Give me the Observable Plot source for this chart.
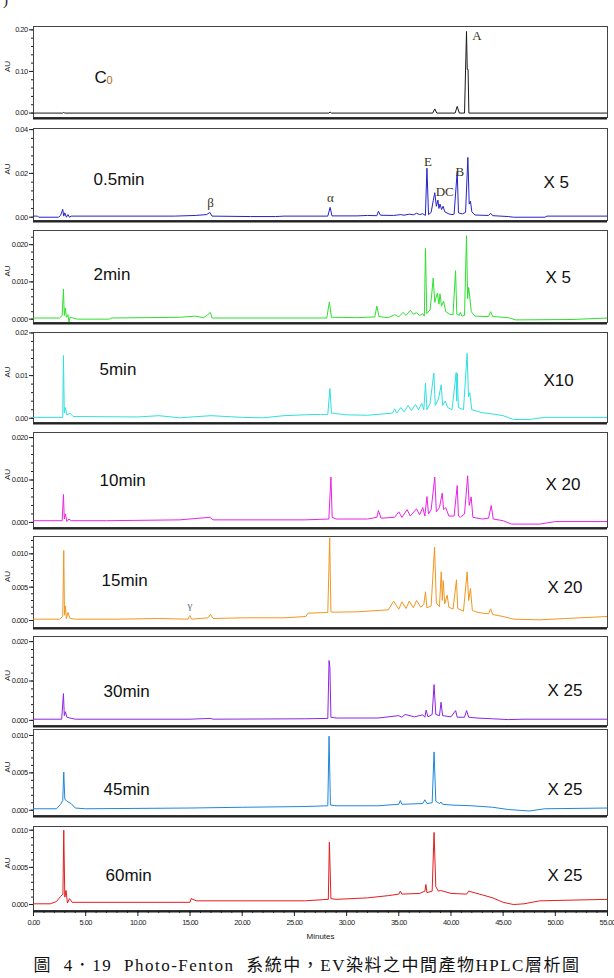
<!DOCTYPE html>
<html><head><meta charset="utf-8">
<script src="https://cdn.jsdelivr.net/npm/d3@7"></script>
<script src="https://cdn.jsdelivr.net/npm/@observablehq/plot@0.6"></script>
<style>
html,body{margin:0;padding:0;background:#fff;}
#page{position:relative;width:614px;height:978px;overflow:hidden;background:#fff;}
#page svg{position:absolute;left:0;}
#page svg g[aria-label$="tick label"] text{letter-spacing:-0.6px;}
.corner{position:absolute;left:3px;top:-8px;font:15px 'Liberation Serif',serif;color:#222;}
.caption{position:absolute;left:0;width:614px;top:951px;text-align:center;font:17px 'Liberation Serif','Noto Sans CJK TC',serif;letter-spacing:1.5px;word-spacing:6px;color:#111;}
</style></head><body><div id="page"></div><script>
// Chromatogram traces: [retention time (min), absorbance (AU)]
const traceC0 = [[0,0],[2.8,0],[2.9,0.0015],[3.0,0],[28.3,0],[28.42,0.0025],[28.55,0],[38.25,0],[38.45,0.010],[38.65,0],[40.4,0],[40.6,0.016],[40.8,0],[41.3,0],[41.49,0.196],[41.56,0.105],[41.64,0.105],[41.72,0],[55,0]];
const trace05 = [[0,0.0005],[0.4,0.0005],[0.5,0],[2.4,0],[2.6,0.0008],[2.8,0.0036],[2.9,0.0005],[3.0,0.002],[3.15,0],[3.3,0.0012],[3.45,0],[3.6,0.0005],[13.5,0.0005],[15.5,0.0008],[16.6,0.0012],[16.9,0.0022],[17.1,0.0005],[20.8,0.0003],[23.2,0.0003],[24,0.0005],[28.2,0.0005],[28.42,0.0045],[28.6,0.0006],[31,0.0006],[32.0,0.0008],[32.9,0.0007],[33.05,0.0027],[33.25,0.0009],[34.5,0.0008],[35.2,0.0012],[35.5,0.0009],[36.0,0.0014],[36.4,0.0011],[36.7,0.0018],[37.0,0.0012],[37.3,0.0016],[37.55,0.0008],[37.7,0.0224],[37.85,0.0012],[38.1,0.0022],[38.3,0.0075],[38.45,0.0112],[38.6,0.005],[38.75,0.0078],[38.85,0.004],[38.95,0.006],[39.1,0.0035],[39.25,0.005],[39.4,0.0025],[39.8,0.0015],[40.1,0.0012],[40.3,0.0014],[40.6,0.0209],[40.72,0.0020],[41.1,0.0015],[41.4,0.0022],[41.62,0.0273],[41.75,0.006],[41.87,0.0073],[42.0,0.0025],[42.3,0.001],[43.6,0.0008],[43.8,0.0018],[44.0,0.0007],[45.5,0.0003],[46.0,0],[49.0,0],[49.2,0.0005],[55,0.0005]];
const trace2 = [[0,0.0003],[2.5,0.0003],[2.75,0.001],[2.87,0.0081],[2.95,0.001],[3.05,0.003],[3.15,0.0005],[3.3,0.0012],[3.4,-0.0008],[3.5,0.0005],[3.8,0.0003],[4.2,0],[7.3,0],[7.4,0.0003],[14.0,0.0005],[15.5,0.0008],[16.3,0.0004],[16.7,0.0012],[16.95,0.0018],[17.1,0.0003],[28.1,0.0003],[28.35,0.0046],[28.55,0.0005],[31,0.0004],[32.7,0.0006],[32.9,0.0035],[33.1,0.0007],[34.0,0.0004],[34.6,0.0012],[35.0,0.0006],[35.4,0.0018],[35.7,0.001],[36.1,0.0024],[36.4,0.0013],[36.7,0.0017],[37.0,0.001],[37.3,0.0015],[37.45,0.0008],[37.56,0.019],[37.68,0.0015],[38.0,0.0025],[38.15,0.0065],[38.3,0.011],[38.45,0.0045],[38.7,0.007],[38.85,0.004],[38.95,0.0068],[39.1,0.0035],[39.3,0.0048],[39.5,0.002],[39.9,0.0013],[40.2,0.0012],[40.44,0.013],[40.56,0.0014],[40.8,0.001],[40.9,0.0018],[41.05,0.0008],[41.3,0.001],[41.49,0.0224],[41.6,0.0055],[41.7,0.0085],[41.95,0.002],[42.3,0.0008],[43.6,0.0007],[43.8,0.002],[44.0,0.0007],[45.5,0.0004],[46.2,-0.0002],[51.5,-0.0001],[55,0.0003]];
const trace5 = [[0,0.0002],[2.8,0.0002],[2.87,0.0147],[2.95,0.0012],[3.05,0.0025],[3.2,0.0008],[3.5,0.0012],[3.8,0.0004],[10,0.0003],[12,0.0006],[14,0.0001],[17,0.0006],[20,0.0002],[22,0.0001],[24,0.0006],[26,0.0008],[27.5,0.0009],[28.2,0.0009],[28.4,0.0070],[28.55,0.0012],[30,0.0008],[32,0.0007],[34.4,0.0012],[34.6,0.0022],[34.8,0.0012],[35.2,0.0025],[35.5,0.0015],[35.9,0.003],[36.2,0.0018],[36.6,0.0032],[36.9,0.002],[37.2,0.0035],[37.4,0.002],[37.56,0.0082],[37.7,0.002],[38.0,0.0035],[38.36,0.0106],[38.5,0.003],[38.8,0.0045],[39.07,0.0078],[39.2,0.003],[39.45,0.004],[39.7,0.0025],[40.1,0.002],[40.5,0.0107],[40.55,0.004],[40.6,0.0105],[40.72,0.0025],[41.2,0.002],[41.55,0.0152],[41.68,0.005],[41.8,0.006],[42.0,0.002],[43,0.0013],[44,0.001],[45,0.0006],[46,-0.0003],[47.5,-0.0003],[49,0.0002],[55,0.0002]];
const trace10 = [[0,0.0004],[2.75,0.0004],[2.87,0.0066],[2.95,0.0008],[3.05,0.002],[3.2,0.0002],[3.4,0.0008],[3.6,0.0004],[7,0.0004],[14,0.0006],[16.9,0.0012],[17.2,0.0006],[26,0.0006],[28.3,0.0008],[28.5,0.0107],[28.62,0.0012],[29,0.0008],[32,0.0008],[32.9,0.0012],[33.05,0.0028],[33.3,0.001],[34.6,0.0012],[35.0,0.0025],[35.3,0.0012],[35.8,0.003],[36.1,0.0015],[36.7,0.0032],[37.0,0.0018],[37.3,0.0035],[37.5,0.0015],[37.7,0.0061],[37.85,0.002],[38.1,0.003],[38.45,0.0107],[38.6,0.0025],[38.9,0.0035],[39.16,0.0069],[39.3,0.003],[39.5,0.0035],[39.8,0.0015],[40.3,0.0015],[40.6,0.0087],[40.72,0.0015],[40.9,0.0012],[41.3,0.002],[41.6,0.0110],[41.75,0.004],[41.94,0.006],[42.1,0.0012],[43.0,0.0008],[43.6,0.001],[43.86,0.004],[44.05,0.0008],[45.0,0.0004],[45.8,-0.0004],[48.5,-0.0004],[50,0.0002],[55,0.0002]];
const trace15 = [[0,0.0002],[2.5,0.0002],[2.8,0.0006],[2.9,0.0105],[2.97,0.0008],[3.05,0.0022],[3.15,0.0003],[3.3,0.0012],[3.5,0.0003],[4.0,0.0002],[8,0.0002],[12,0.0003],[14.8,0.0002],[14.98,0.00075],[15.15,0.0002],[16.7,0.0004],[16.96,0.0009],[17.2,0.0003],[20,0.0004],[24,0.0004],[26.1,0.0006],[26.3,0.0011],[28.2,0.0012],[28.38,0.0124],[28.5,0.0013],[28.7,0.00125],[31,0.0013],[34,0.0016],[34.5,0.0029],[35.0,0.0017],[35.3,0.0028],[35.7,0.0018],[36.0,0.0029],[36.4,0.0019],[36.7,0.0030],[37.1,0.0020],[37.4,0.0024],[37.56,0.0043],[37.7,0.0019],[38.1,0.0022],[38.43,0.0110],[38.6,0.0026],[38.9,0.0021],[39.07,0.0073],[39.17,0.0030],[39.26,0.0060],[39.4,0.0025],[39.64,0.0038],[39.8,0.0020],[40.2,0.0017],[40.53,0.0061],[40.65,0.0018],[41.2,0.0014],[41.55,0.0073],[41.7,0.0030],[41.87,0.0048],[42.05,0.0015],[42.6,0.0012],[43.6,0.0010],[43.8,0.00175],[44.0,0.0009],[45.0,0.0006],[46.0,0.0002],[48.5,0.0001],[51.0,0.0003],[55,0.0006]];
const trace30 = [[0,0.0003],[2.7,0.0003],[2.87,0.0068],[2.95,0.0012],[3.05,0.0022],[3.2,0.0008],[3.5,0.0006],[4,0.0003],[15,0.0003],[17,0.0005],[17.2,0.0003],[26,0.0004],[28.2,0.0005],[28.32,0.0152],[28.4,0.0135],[28.5,0.0008],[29,0.0006],[33,0.0006],[35,0.0012],[35.3,0.0008],[35.6,0.0015],[36.5,0.0009],[37.3,0.0014],[37.5,0.0008],[37.62,0.0026],[37.8,0.0009],[38.2,0.0015],[38.38,0.0091],[38.55,0.0015],[38.9,0.0012],[39.05,0.0046],[39.2,0.0012],[40.0,0.0009],[40.45,0.0025],[40.6,0.0008],[41.3,0.0008],[41.5,0.0025],[41.7,0.0008],[42.5,0.0006],[44,0.0004],[45.5,0.0002],[47,0.0003],[55,0.0003]];
const trace45 = [[0,0.0002],[2.2,0.0002],[2.6,0.0008],[2.8,0.0013],[2.9,0.0051],[3.0,0.0015],[3.2,0.0012],[3.6,0.0009],[4.0,0.0003],[5,0.0002],[15,0.0003],[20,0.0004],[26,0.0005],[28.2,0.0006],[28.32,0.0099],[28.45,0.0007],[29,0.0006],[33,0.0006],[35.0,0.0008],[35.15,0.0013],[35.3,0.0008],[37.3,0.0009],[37.5,0.0014],[37.7,0.0009],[38.2,0.0010],[38.38,0.0078],[38.55,0.0012],[38.9,0.0009],[39.05,0.0011],[39.2,0.0008],[40,0.0007],[42,0.0006],[44,0.0004],[45.5,0.0001],[47.5,-0.0001],[49,0.0002],[55,0.0003]];
const trace60 = [[0,0.0001],[1.6,0.0001],[2.2,0.0004],[2.6,0.0011],[2.82,0.0014],[2.9,0.0100],[3.0,0.0010],[3.12,0.0019],[3.25,0.0002],[3.45,0.0008],[3.7,0.0003],[4.0,0.0003],[15.0,0.0003],[15.1,0.0008],[15.6,0.0005],[20,0.0005],[26,0.0005],[28.25,0.0007],[28.35,0.0084],[28.5,0.0008],[29,0.0007],[32,0.0009],[34,0.0012],[35.0,0.0014],[35.15,0.0018],[35.3,0.0014],[37.0,0.0015],[37.5,0.0018],[37.6,0.0027],[37.7,0.0016],[38.2,0.0018],[38.38,0.0097],[38.55,0.0024],[38.8,0.0018],[39.0,0.0019],[40.0,0.0015],[41.5,0.0014],[41.7,0.0018],[43,0.0013],[44.0,0.0009],[45.0,0.0003],[46.0,0.0000],[47.0,0.0001],[48.5,0.0005],[55,0.0007]];

// Peak annotations: [label, time (min), absorbance]
const peaksC0 = [["A", 42.5, 0.186]];
const peaks05 = [["β", 16.96, 0.0065], ["α", 28.46, 0.0088], ["E", 37.8, 0.0255], ["DC", 39.4, 0.0117], ["B", 40.85, 0.0209]];
const peaks15 = [["γ", 14.98, 0.00225]];

// Panel names, dilution factors, y tick values
const panelNames = ["C", "0.5min", "2min", "5min", "10min", "15min", "30min", "45min", "60min"];
const multipliers = ["", "X 5", "X 5", "X10", "X 20", "X 20", "X 25", "X 25", "X 25"];
const yTicks = [[0, 0.1, 0.2], [0, 0.02, 0.04], [0, 0.01, 0.02], [0, 0.01, 0.02], [0, 0.01, 0.02], [0, 0.005, 0.01], [0, 0.01, 0.02], [0, 0.005, 0.01], [0, 0.005, 0.01]];
const xTicks = d3.range(0, 56, 5);

const traces = [traceC0, trace05, trace2, trace5, trace10, trace15, trace30, trace45, trace60];
const peakSets = [peaksC0, peaks05, [], [], [], peaks15, [], [], []];

// Panel geometry and styling
const layout = [
  {top: 26, bottom: 117, domain: [-0.0106, 0.208], fmt: ".2f", minor: 0.02, color: "#1a1a1a", tdx: 61, tdy: 44, mdx: 0, mdy: 0},
  {top: 128, bottom: 220, domain: [-0.0015, 0.0405], fmt: ".2f", minor: 0.004, color: "#2323c8", tdx: 60, tdy: 44, mdx: 510, mdy: 47},
  {top: 230, bottom: 322, domain: [-0.0009, 0.0238], fmt: ".3f", minor: 0.002, color: "#2ee02e", tdx: 60, tdy: 37, mdx: 512, mdy: 40},
  {top: 332, bottom: 422, domain: [-0.001, 0.0201], fmt: ".2f", minor: 0.002, color: "#2fe0e0", tdx: 66, tdy: 30, mdx: 510, mdy: 41},
  {top: 432, bottom: 527, domain: [-0.0012, 0.0212], fmt: ".3f", minor: 0.002, color: "#e823e8", tdx: 66, tdy: 41, mdx: 512, mdy: 45},
  {top: 536, bottom: 627, domain: [-0.00105, 0.0126], fmt: ".3f", minor: 0.001, color: "#f2961f", tdx: 68, tdy: 37, mdx: 514, mdy: 44},
  {top: 636, bottom: 725, domain: [-0.0013, 0.0213], fmt: ".3f", minor: 0.002, color: "#8f22e6", tdx: 70, tdy: 48, mdx: 514, mdy: 47},
  {top: 729, bottom: 815, domain: [-0.0007, 0.0108], fmt: ".3f", minor: 0.001, color: "#1f86dc", tdx: 70, tdy: 53, mdx: 514, mdy: 53},
  {top: 826, bottom: 910, domain: [-0.0008, 0.0105], fmt: ".3f", minor: 0.001, color: "#e61c1c", tdx: 72, tdy: 42, mdx: 514, mdy: 42}
];

const narrow = "'Liberation Sans Narrow', 'Arial Narrow', 'Liberation Sans', sans-serif";
const serif = "'Liberation Serif', 'Times New Roman', serif";
const page = document.getElementById("page");

layout.forEach((p, i) => {
  const last = i === layout.length - 1;
  const mt = 4, mb = last ? 44 : 4;
  const minorTicks = d3.range(0, p.domain[1] + 1e-9, p.minor).filter(v => v <= p.domain[1]);
  const data = traces[i].map(([m, au]) => ({m, au}));
  const peaks = peakSets[i].map(([label, m, au]) => ({label, m, au}));

  const marks = [
    Plot.frame({stroke: "#444", strokeWidth: 1}),
    Plot.ruleY([p.domain[0]], {stroke: "#222", strokeWidth: 2, dy: 1}),
    Plot.axisY({ticks: minorTicks, tickSize: 2, tickFormat: () => "", label: null}),
    Plot.axisY({ticks: yTicks[i], tickSize: 4, tickPadding: 2, tickFormat: d3.format(p.fmt), label: null, fontSize: 7.5}),
    Plot.text(["AU"], {text: d => d, frameAnchor: "left", dx: -26, rotate: -90, fontSize: 8, fill: "#222"}),
    Plot.line(data, {x: "m", y: "au", stroke: p.color, strokeWidth: 1, clip: true}),
    Plot.text([panelNames[i]], {text: d => d, frameAnchor: "top-left", dx: p.tdx, dy: p.tdy,
      textAnchor: "start", fontSize: 17, fontFamily: narrow, fill: "#111"})
  ];
  if (i === 0) {
    marks.push(Plot.text(["0"], {text: d => d, frameAnchor: "top-left", dx: p.tdx + 12, dy: p.tdy + 6,
      textAnchor: "start", fontSize: 11, fontFamily: narrow, fill: "#b06a20"}));
  }
  if (multipliers[i]) {
    marks.push(Plot.text([multipliers[i]], {text: d => d, frameAnchor: "top-left", dx: p.mdx, dy: p.mdy,
      textAnchor: "start", fontSize: 17, fontFamily: narrow, fill: "#111"}));
  }
  if (peaks.length) {
    marks.push(Plot.text(peaks, {x: "m", y: "au", text: "label", fontFamily: serif,
      fontSize: i === 5 ? 11 : 13, fill: i === 5 ? "#5a6f80" : "#3a3320"}));
  }
  if (last) {
    marks.push(Plot.axisX({ticks: d3.range(0, 56, 1), tickSize: 3, tickFormat: () => "", label: null}));
    marks.push(Plot.axisX({ticks: xTicks, tickSize: 6, tickPadding: 3, tickFormat: d3.format(".2f"), label: null, fontSize: 7.5}));
    marks.push(Plot.text(["Minutes"], {text: d => d, frameAnchor: "bottom", dy: 28, fontSize: 8, fill: "#222"}));
  }

  const svg = Plot.plot({
    width: 614,
    height: p.bottom - p.top + mt + mb,
    marginLeft: 33, marginRight: 7, marginTop: mt, marginBottom: mb,
    x: last ? {domain: [0, 55]} : {domain: [0, 55], axis: null},
    y: {domain: p.domain},
    style: {fontFamily: narrow, fontSize: "8px", background: "transparent", overflow: "visible", color: "#222"},
    marks
  });
  svg.style.top = (p.top - mt) + "px";
  page.appendChild(svg);
});

const corner = document.createElement("div");
corner.className = "corner";
corner.textContent = ")";
page.appendChild(corner);

const caption = document.createElement("div");
caption.className = "caption";
caption.textContent = "圖 4．19 Photo-Fenton 系統中，EV染料之中間產物HPLC層析圖";
page.appendChild(caption);
</script></body></html>
